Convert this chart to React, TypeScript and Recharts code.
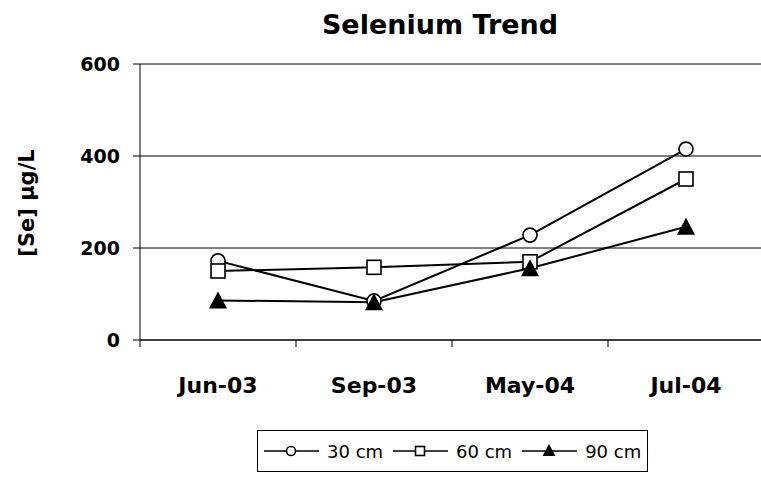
import { LineChart, Line, XAxis, YAxis, CartesianGrid, Legend } from 'recharts';

const months = ['Jun-03', 'Sep-03', 'May-04', 'Jul-04'];
const se30 = [172, 85, 228, 415];
const se60 = [150, 158, 170, 350];
const se90 = [86, 82, 156, 246];
const yTicks = [0, 200, 400, 600];

const data = months.map((m, i) => ({ month: m, cm30: se30[i], cm60: se60[i], cm90: se90[i] }));

const font = '"DejaVu Sans", Verdana, sans-serif';

const CircleDot = ({ cx, cy }) => (
  <circle cx={cx} cy={cy} r={7} fill="#fff" stroke="#000" strokeWidth={1.6} />
);
const SquareDot = ({ cx, cy }) => (
  <rect x={cx - 7} y={cy - 7} width={14} height={14} fill="#fff" stroke="#000" strokeWidth={1.6} />
);
const TriangleDot = ({ cx, cy }) => (
  <polygon points={`${cx},${cy - 9} ${cx - 9},${cy + 8} ${cx + 9},${cy + 8}`} fill="#000" />
);

// Excel-style category tick: tick mark on the band edge, label in the band centre
const CategoryTick = ({ x, y, payload }) => {
  const half = payload.offset ?? 0;
  return (
    <g>
      <line x1={x - half} y1={y} x2={x - half} y2={y + 7} stroke="#000" />
      <text x={x} y={y + 53} textAnchor="middle" fill="#000" fontSize={22} fontWeight="bold" fontFamily={font}>
        {payload.value}
      </text>
    </g>
  );
};

const series = [
  { key: 'cm30', name: '30 cm', Dot: CircleDot },
  { key: 'cm60', name: '60 cm', Dot: SquareDot },
  { key: 'cm90', name: '90 cm', Dot: TriangleDot },
];

const LegendBox = () => (
  <div
    style={{
      display: 'flex',
      alignItems: 'center',
      border: '1px solid #000',
      height: 40,
      width: 389,
      boxSizing: 'content-box',
      fontFamily: font,
      fontSize: 18,
      background: '#fff',
    }}
  >
    {series.map(({ key, name }) => (
      <div key={key} style={{ display: 'flex', alignItems: 'center', marginLeft: 6 }}>
        <svg width={55} height={18}>
          <line x1={0} y1={9} x2={55} y2={9} stroke="#000" strokeWidth={1.6} />
          {key === 'cm30' && <circle cx={27} cy={9} r={4.5} fill="#fff" stroke="#000" strokeWidth={1.6} />}
          {key === 'cm60' && <rect x={22.5} y={4.5} width={9} height={9} fill="#fff" stroke="#000" strokeWidth={1.6} />}
          {key === 'cm90' && <polygon points="27,2 20.5,14 33.5,14" fill="#000" />}
        </svg>
        <span style={{ marginLeft: 8, marginRight: 4 }}>{name}</span>
      </div>
    ))}
  </div>
);

export default function App() {
  return (
    <div
      style={{
        position: 'absolute',
        left: 0,
        top: 0,
        width: 761,
        height: 477,
        overflow: 'hidden',
        background: '#fff',
        fontFamily: font,
      }}
    >
      <div
        style={{
          position: 'absolute',
          left: 440,
          top: 9,
          transform: 'translateX(-50%)',
          fontSize: 27,
          fontWeight: 'bold',
          whiteSpace: 'nowrap',
        }}
      >
        Selenium Trend
      </div>
      <div
        style={{
          position: 'absolute',
          left: 27,
          top: 203,
          transform: 'translate(-50%, -50%) rotate(-90deg)',
          fontSize: 21,
          fontWeight: 'bold',
          whiteSpace: 'nowrap',
        }}
      >
        [Se] µg/L
      </div>
      <LineChart width={780} height={477} data={data} margin={{ top: 64, right: 16, left: 0, bottom: 27 }}>
        <CartesianGrid horizontal vertical={false} stroke="#000" strokeWidth={1} />
        <XAxis
          dataKey="month"
          scale="band"
          axisLine={{ stroke: '#000' }}
          tickLine={false}
          tickSize={0}
          tickMargin={0}
          height={68}
          interval={0}
          tick={<CategoryTick />}
        />
        <YAxis
          width={140}
          domain={[0, 600]}
          ticks={yTicks}
          tickSize={7}
          tickMargin={13}
          axisLine={{ stroke: '#000' }}
          tickLine={{ stroke: '#000' }}
          tick={{ fill: '#000', fontSize: 19, fontWeight: 'bold', fontFamily: font }}
        />
        <Legend
          content={<LegendBox />}
          wrapperStyle={{ left: 257, top: 430, width: 391 }}
        />
        {series.map(({ key, name, Dot }) => (
          <Line
            key={key}
            dataKey={key}
            name={name}
            stroke="#000"
            strokeWidth={2}
            dot={<Dot />}
            isAnimationActive={false}
          />
        ))}
      </LineChart>
    </div>
  );
}
